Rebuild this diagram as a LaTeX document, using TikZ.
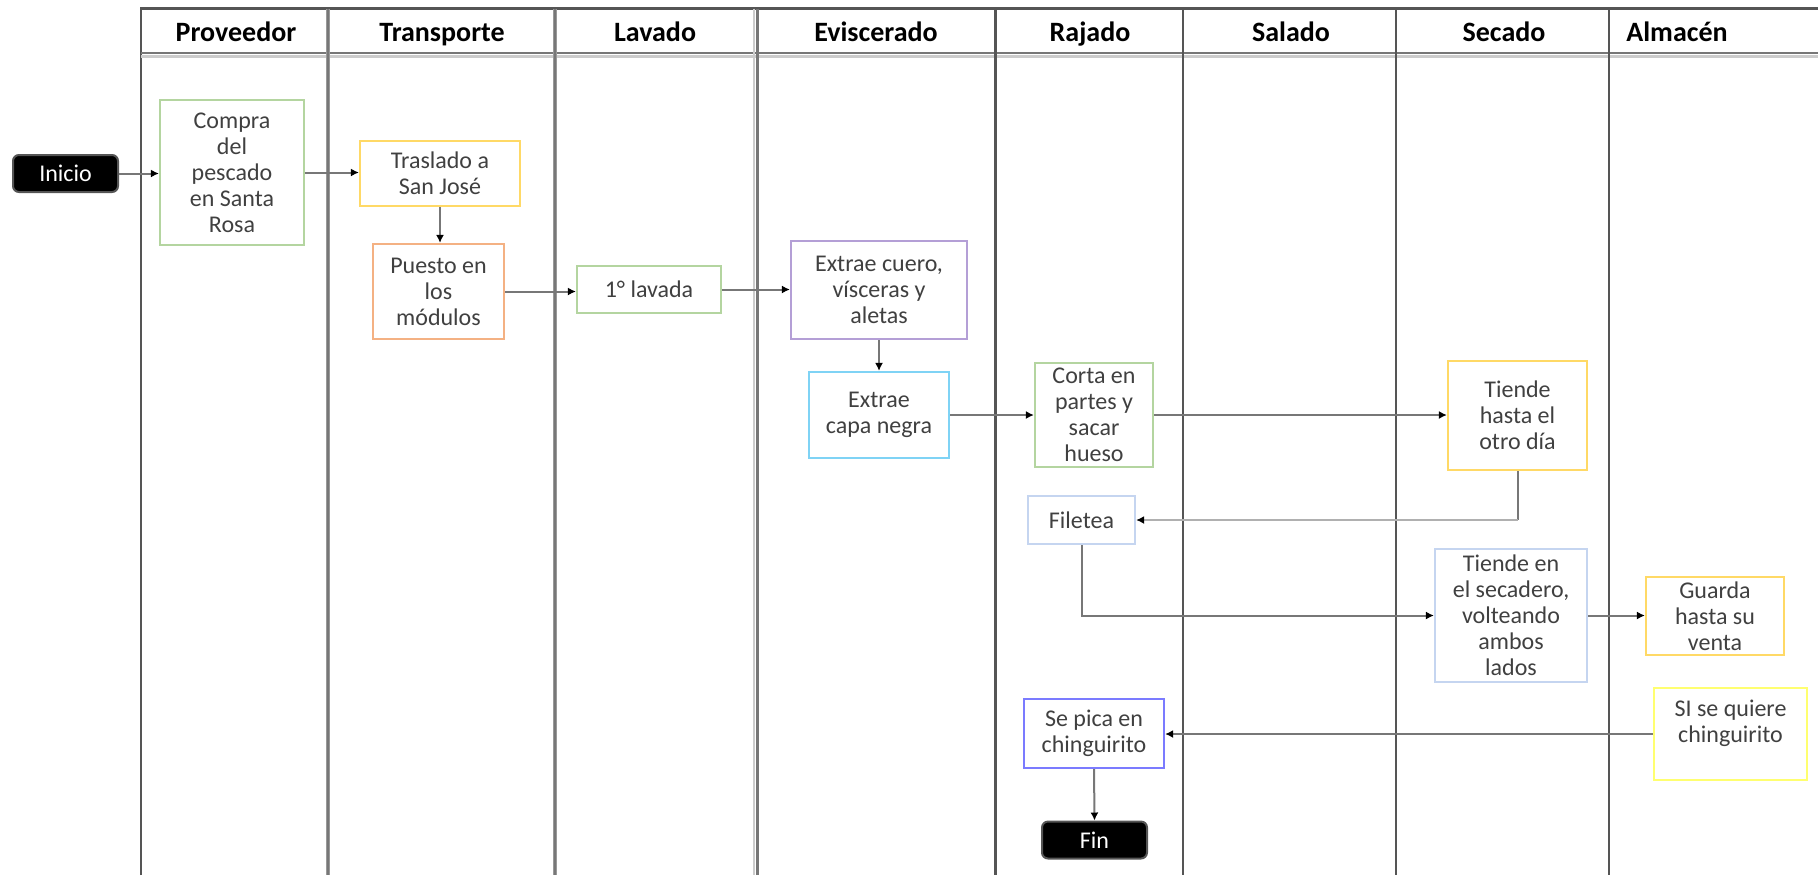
\documentclass[tikz,border=0pt]{standalone}
\usepackage{fontspec}
\setmainfont{Carlito}
\usetikzlibrary{arrows.meta}
\definecolor{cgreen}{HTML}{B4D5A0}
\definecolor{cyellow}{HTML}{FFD966}
\definecolor{corange}{HTML}{F4B183}
\definecolor{cpurple}{HTML}{B49FD6}
\definecolor{ccyan}{HTML}{7FD3F5}
\definecolor{cblue}{HTML}{C5D5F0}
\definecolor{cbyellow}{HTML}{FFFF70}
\definecolor{cviolet}{HTML}{7B7BFF}
\definecolor{txt}{HTML}{404040}
\definecolor{cline}{HTML}{777777}
\definecolor{clight}{HTML}{B0B0B0}
\definecolor{laned}{HTML}{555555}
\definecolor{lanel}{HTML}{CCCCCC}
\definecolor{lanem}{HTML}{999999}
\begin{document}
\begin{tikzpicture}[x=0.5pt,y=-0.5pt,
  box/.style={draw, line width=1.1pt, inner sep=0pt, align=center, text=txt, font=\fontsize{12}{13}\selectfont},
  term/.style={fill=black, draw=laned, line width=1pt, rounded corners=3pt, text=white, font=\fontsize{12}{13}\selectfont, minimum width=52.5pt, minimum height=18.5pt, inner sep=0pt},
  hdr/.style={font=\bfseries\fontsize{14}{16}\selectfont, anchor=base, text=black},
  conn/.style={draw=cline, line width=1pt, -{Latex[length=4pt,width=4pt,color=black]}},
  lane/.style={draw=laned, line width=1.3pt}
]
\useasboundingbox (0,0) rectangle (1818,875);
% swimlane frame
\draw[lane] (141,875) -- (141,8.5) -- (1818,8.5);
\draw[draw=lanel, line width=1.2pt] (141,56.5) -- (1818,56.5);
\draw[draw=cline, line width=1.3pt] (141,53) -- (1818,53);
\draw[draw=lanem, line width=2.4pt] (328,8.5) -- (328,875);
\draw[draw=cline, line width=1pt] (328,8.5) -- (328,875);
\draw[draw=lanem, line width=2pt] (555,8.5) -- (555,875);
\draw[draw=cline, line width=1pt] (555,8.5) -- (555,875);
\draw[draw=lanel, line width=1.3pt] (754,8.5) -- (754,875);
\draw[draw=cline, line width=1.2pt] (757.5,8.5) -- (757.5,875);
\draw[lane, line width=1.5pt] (995,8.5) -- (995,875);
\draw[lane] (1183,8.5) -- (1183,875);
\draw[lane] (1396,8.5) -- (1396,875);
\draw[lane] (1609,8.5) -- (1609,875);
% headers
\node[hdr] (hprov) at (236,41.5) {Proveedor};
\node[hdr] (htrans) at (442,41.5) {Transporte};
\node[hdr] (hlav) at (655,41.5) {Lavado};
\node[hdr] (hevis) at (876,41.5) {Eviscerado};
\node[hdr] (hraj) at (1090,41.5) {Rajado};
\node[hdr] (hsal) at (1291,41.5) {Salado};
\node[hdr] (hsec) at (1504,41.5) {Secado};
\node[hdr] (halm) at (1677,41.5) {Almacén};
% nodes
\node[term] (inicio) at (65.5,173.5) {Inicio};
\node[box, draw=cgreen, minimum width=72pt, minimum height=72.5pt] (compra) at (232,172.5) {Compra\\del\\pescado\\en Santa\\Rosa};
\node[box, draw=cyellow, minimum width=80pt, minimum height=32.5pt] (traslado) at (440,173.5) {Traslado a\\San José};
\node[box, draw=corange, minimum width=65.5pt, minimum height=47.5pt] (puesto) at (438.5,291.5) {Puesto en\\los\\módulos};
\node[box, draw=cgreen, minimum width=72pt, minimum height=23.5pt] (lavada) at (649,289.5) {1° lavada};
\node[box, draw=cpurple, minimum width=88pt, minimum height=49pt] (cuero) at (879,290) {Extrae cuero,\\vísceras y\\aletas};
\node[box, draw=ccyan, minimum width=70pt, minimum height=43pt] (capa) at (879,415) {Extrae\\capa negra};
\node[box, draw=cgreen, minimum width=59pt, minimum height=52pt] (corta) at (1094,415) {Corta en\\partes y\\sacar\\hueso};
\node[box, draw=cyellow, minimum width=69.5pt, minimum height=54.5pt] (tiende1) at (1517.5,415.5) {Tiende\\hasta el\\otro día};
\node[box, draw=cblue, minimum width=53.5pt, minimum height=24pt] (filetea) at (1081.5,520) {Filetea};
\node[box, draw=cblue, minimum width=76pt, minimum height=66.5pt] (tiende2) at (1511,615.5) {Tiende en\\el secadero,\\volteando\\ambos\\lados};
\node[box, draw=cyellow, minimum width=69pt, minimum height=39pt] (guarda) at (1715,616) {Guarda\\hasta su\\venta};
\node[box, draw=cbyellow, minimum width=76.5pt, minimum height=46pt] (si) at (1730.5,734) {SI se quiere\\chinguirito\\~};
\node[box, draw=cviolet, minimum width=70pt, minimum height=34.5pt] (pica) at (1094,733.5) {Se pica en\\chinguirito};
\node[term] (fin) at (1094.5,840) {Fin};
% connectors
\draw[conn] (inicio.east) -- (inicio.east -| compra.west);
\draw[conn] (compra.east) -- (compra.east -| traslado.west);
\draw[conn] (traslado.south) -- (traslado.south |- puesto.north);
\draw[conn] (puesto.east) -- (puesto.east -| lavada.west);
\draw[conn] (lavada.east) -- (lavada.east -| cuero.west);
\draw[conn] (cuero.south) -- (capa.north);
\draw[conn] (capa.east) -- (capa.east -| corta.west);
\draw[conn] (corta.east) -- (corta.east -| tiende1.west);
\coordinate (k1) at (tiende1.south |- filetea.east);
\draw[draw=cline, line width=1pt] (tiende1.south) -- (k1);
\draw[conn, draw=clight] (k1) -- (filetea.east);
\draw[conn] (filetea.south) |- (tiende2.west);
\draw[conn] (tiende2.east) -- (tiende2.east -| guarda.west);
\draw[conn] (si.west) -- (si.west -| pica.east);
\draw[conn] (pica.south) -- (fin.north);
\end{tikzpicture}
\end{document}
